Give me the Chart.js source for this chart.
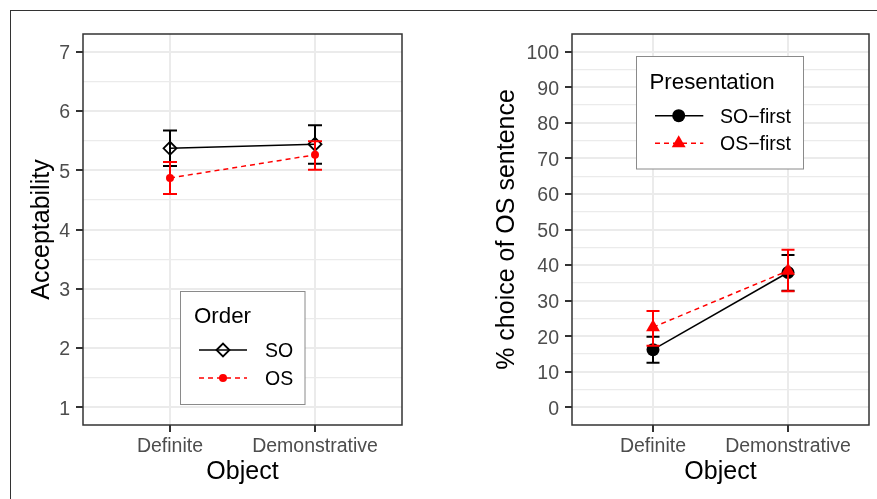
<!DOCTYPE html>
<html><head><meta charset="utf-8">
<script src="https://cdn.jsdelivr.net/npm/chart.js@4/dist/chart.umd.min.js"></script>
<style>
html,body{margin:0;padding:0;background:#fff;width:877px;height:499px;overflow:hidden;}
#frame{position:absolute;left:10px;top:10px;width:900px;height:600px;border-top:1px solid #333;border-left:1px solid #333;}
#c1{position:absolute;left:0;top:0;}
#c2{position:absolute;left:440px;top:0;}
</style></head><body>
<div id="frame"></div>
<canvas id="c1" width="440" height="499"></canvas>
<canvas id="c2" width="437" height="499"></canvas>
<script>
// ---------- DATA ----------
const categories = ['Definite', 'Demonstrative'];

// Left panel: Acceptability by word order
const orderLabels = ['SO', 'OS'];
const accSO = [5.37, 5.44];
const accSOLow = [5.07, 5.11];
const accSOHigh = [5.67, 5.76];
const accOS = [4.87, 5.26];
const accOSLow = [4.60, 5.01];
const accOSHigh = [5.14, 5.49];
const accTicks = [1, 2, 3, 4, 5, 6, 7];

// Right panel: % choice of OS sentence by presentation
const presLabels = ['SO\u2212first', 'OS\u2212first'];
const pctSO = [16.2, 37.9];
const pctSOLow = [12.5, 32.8];
const pctSOHigh = [19.8, 42.8];
const pctOS = [22.5, 38.4];
const pctOSLow = [17.3, 32.6];
const pctOSHigh = [27.1, 44.3];
const pctTicks = [0, 10, 20, 30, 40, 50, 60, 70, 80, 90, 100];

// ---------- HELPERS ----------
const FONT = "'Liberation Sans', Arial, Helvetica, sans-serif";
const GRID = '#EBEBEB';
const DARK = '#333333';
const TICKTXT = '#4D4D4D';

function pts(vals) { return vals.map((v, i) => ({ x: i + 1, y: v })); }

function withMinor(major) {
  const out = [];
  for (let i = 0; i < major.length; i++) {
    out.push({ value: major[i], isMajor: true });
    if (i < major.length - 1) out.push({ value: (major[i] + major[i + 1]) / 2, isMajor: false });
  }
  return out;
}

function drawMarker(ctx, style, x, y, r, fill, stroke, bw) {
  ctx.save();
  ctx.beginPath();
  if (style === 'circle') {
    ctx.arc(x, y, r, 0, Math.PI * 2);
  } else if (style === 'rectRot') {
    ctx.moveTo(x - r, y); ctx.lineTo(x, y - r); ctx.lineTo(x + r, y); ctx.lineTo(x, y + r);
  } else if (style === 'triangle') {
    for (let k = 0; k < 3; k++) {
      const a = k * 2 * Math.PI / 3;
      const px = x + Math.sin(a) * r, py = y - Math.cos(a) * r;
      if (k === 0) ctx.moveTo(px, py); else ctx.lineTo(px, py);
    }
  }
  ctx.closePath();
  if (fill) { ctx.fillStyle = fill; ctx.fill(); }
  if (bw > 0) { ctx.strokeStyle = stroke; ctx.lineWidth = bw; ctx.stroke(); }
  ctx.restore();
}

const errorBarPlugin = {
  id: 'errbars',
  afterDatasetDraw(chart, args) {
    const ds = chart.data.datasets[args.index];
    if (!ds.errLow) return;
    const ctx = chart.ctx, xs = chart.scales.x, ys = chart.scales.y;
    const half = chart.options.plugins.errbars.capHalf;
    ctx.save();
    ctx.strokeStyle = ds.borderColor;
    ctx.lineWidth = 2;
    ctx.setLineDash([]);
    ds.errLow.forEach((lo, i) => {
      const x = xs.getPixelForValue(i + 1);
      const y1 = ys.getPixelForValue(lo), y2 = ys.getPixelForValue(ds.errHigh[i]);
      ctx.beginPath();
      ctx.moveTo(x, y1); ctx.lineTo(x, y2);
      ctx.moveTo(x - half, y1); ctx.lineTo(x + half, y1);
      ctx.moveTo(x - half, y2); ctx.lineTo(x + half, y2);
      ctx.stroke();
    });
    ctx.restore();
  }
};

const panelPlugin = {
  id: 'panel',
  afterDraw(chart) {
    const ctx = chart.ctx, a = chart.chartArea;
    ctx.save();
    ctx.strokeStyle = DARK;
    ctx.lineWidth = 1.5;
    ctx.strokeRect(a.left, a.top, a.right - a.left, a.bottom - a.top);
    // legend
    const L = chart.options.plugins.panel.legend;
    ctx.fillStyle = '#fff';
    ctx.fillRect(L.box[0], L.box[1], L.box[2], L.box[3]);
    ctx.strokeStyle = '#8a8a8a';
    ctx.lineWidth = 1;
    ctx.strokeRect(L.box[0], L.box[1], L.box[2], L.box[3]);
    ctx.fillStyle = '#000';
    ctx.textBaseline = 'middle';
    ctx.textAlign = 'left';
    ctx.font = '22.3px ' + FONT;
    ctx.fillText(L.title, L.titleX, L.titleY + 2);
    ctx.font = '19.5px ' + FONT;
    chart.data.datasets.forEach((ds, i) => {
      const y = L.rows[i];
      ctx.save();
      ctx.strokeStyle = ds.borderColor;
      ctx.lineWidth = ds.borderWidth;
      ctx.setLineDash(ds.borderDash || []);
      ctx.beginPath();
      ctx.moveTo(L.lineX[0], y); ctx.lineTo(L.lineX[1], y);
      ctx.stroke();
      ctx.restore();
      drawMarker(ctx, ds.pointStyle, L.markX, y, ds.pointRadius,
        ds.pointBackgroundColor, ds.pointBorderColor, ds.pointBorderWidth);
      ctx.fillStyle = '#000';
      ctx.fillText(ds.label, L.textX, y + 1.5);
    });
    ctx.restore();
  }
};

function makeChart(canvas, p) {
  return new Chart(canvas, {
    type: 'line',
    data: { datasets: p.datasets },
    plugins: [errorBarPlugin, panelPlugin],
    options: {
      responsive: false,
      animation: false,
      events: [],
      devicePixelRatio: 1,
      layout: { padding: { left: 0, top: 34, right: p.padRight, bottom: 0 } },
      plugins: {
        legend: { display: false },
        tooltip: { enabled: false },
        errbars: { capHalf: p.capHalf },
        panel: { legend: p.legend }
      },
      scales: {
        x: {
          type: 'linear', min: 0.4, max: 2.6,
          afterBuildTicks: s => { s.ticks = categories.map((c, i) => ({ value: i + 1 })); },
          afterFit: s => { s.height = 74; },
          ticks: {
            autoSkip: false, maxRotation: 0, padding: 3, color: TICKTXT,
            font: { family: FONT, size: 19.5 },
            callback: (v, i) => categories[i]
          },
          grid: { color: GRID, lineWidth: 2, tickColor: DARK, tickLength: 7, tickWidth: 2 },
          border: { display: false },
          title: { display: true, text: 'Object', color: '#000',
            font: { family: FONT, size: 25 }, padding: { top: 0, bottom: 12 } }
        },
        y: {
          type: 'linear', min: p.yMin, max: p.yMax,
          afterBuildTicks: s => { s.ticks = withMinor(p.yTicks); },
          afterFit: s => { s.width = p.yWidth; },
          ticks: {
            autoSkip: false, padding: 6, color: TICKTXT, labelOffset: 2,
            font: { family: FONT, size: 19.5 },
            callback: (v, i, t) => (t[i].isMajor ? String(v) : '')
          },
          grid: {
            color: GRID,
            lineWidth: c => (c.tick && c.tick.isMajor ? 2 : 1.2),
            tickColor: c => (c.tick && c.tick.isMajor ? DARK : 'rgba(0,0,0,0)'),
            tickLength: 7, tickWidth: 2
          },
          border: { display: false },
          title: { display: true, text: p.yTitle, color: '#000',
            font: { family: FONT, size: 25 }, padding: { top: p.yTitlePad, bottom: 0 } }
        }
      }
    }
  });
}

// ---------- LEFT ----------
makeChart(document.getElementById('c1'), {
  padRight: 38, yWidth: 83, yMin: 0.7, yMax: 7.3, yTicks: accTicks,
  yTitle: 'Acceptability', yTitlePad: 27, capHalf: 7,
  legend: { box: [180.5, 291.5, 124.5, 113], title: 'Order', titleX: 194, titleY: 315,
    rows: [350, 378], lineX: [199, 247], markX: 223, textX: 265 },
  datasets: [
    { label: orderLabels[0], data: pts(accSO), errLow: accSOLow, errHigh: accSOHigh,
      borderColor: '#000000', borderWidth: 1.5, tension: 0, fill: false, order: 2,
      pointStyle: 'rectRot', pointRadius: 6.5, pointBorderWidth: 1.8,
      pointBackgroundColor: 'rgba(0,0,0,0)', pointBorderColor: '#000000' },
    { label: orderLabels[1], data: pts(accOS), errLow: accOSLow, errHigh: accOSHigh,
      borderColor: '#FF0000', borderWidth: 1.5, borderDash: [5, 4], tension: 0, fill: false, order: 1,
      pointStyle: 'circle', pointRadius: 4, pointBorderWidth: 0,
      pointBackgroundColor: '#FF0000', pointBorderColor: '#FF0000' }
  ]
});

// ---------- RIGHT ----------
makeChart(document.getElementById('c2'), {
  padRight: 8, yWidth: 132, yMin: -5, yMax: 105, yTicks: pctTicks,
  yTitle: '% choice of OS sentence', yTitlePad: 52, capHalf: 6.5,
  legend: { box: [196.5, 56.5, 167, 112.5], title: 'Presentation', titleX: 209.5, titleY: 80.5,
    rows: [115.7, 143.3], lineX: [215, 263.3], markX: 238.7, textX: 280 },
  datasets: [
    { label: presLabels[0], data: pts(pctSO), errLow: pctSOLow, errHigh: pctSOHigh,
      borderColor: '#000000', borderWidth: 1.5, tension: 0, fill: false, order: 2,
      pointStyle: 'circle', pointRadius: 6.5, pointBorderWidth: 0,
      pointBackgroundColor: '#000000', pointBorderColor: '#000000' },
    { label: presLabels[1], data: pts(pctOS), errLow: pctOSLow, errHigh: pctOSHigh,
      borderColor: '#FF0000', borderWidth: 1.5, borderDash: [5, 4], tension: 0, fill: false, order: 1,
      pointStyle: 'triangle', pointRadius: 8, pointBorderWidth: 0,
      pointBackgroundColor: '#FF0000', pointBorderColor: '#FF0000' }
  ]
});
</script>
</body></html>
